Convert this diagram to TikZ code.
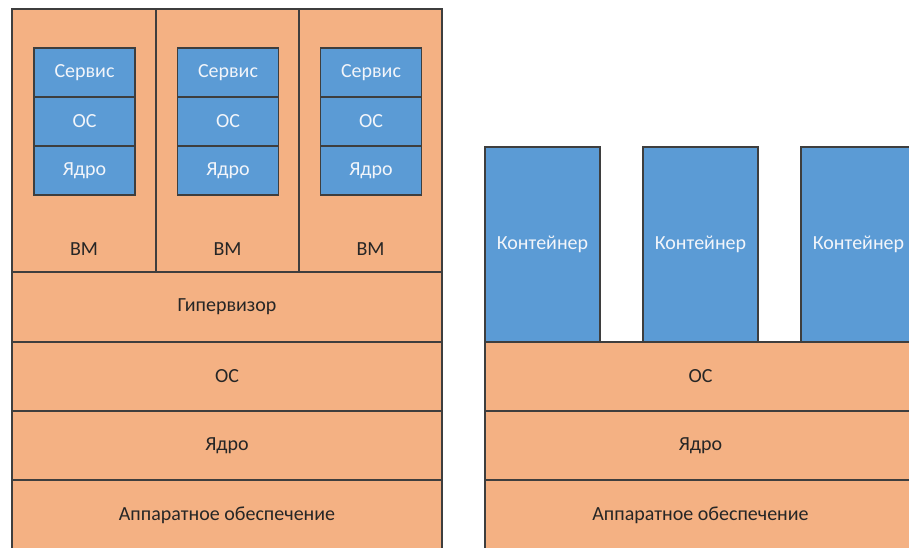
\documentclass[tikz,border=0pt]{standalone}
\usepackage{fontspec}
\setmainfont{Carlito}
\definecolor{layerorange}{HTML}{F4B183}
\definecolor{boxblue}{HTML}{5B9BD5}
\definecolor{edgegray}{HTML}{3E3E3E}
\definecolor{darktext}{HTML}{262626}
\definecolor{lighttext}{HTML}{F2F5FA}
\tikzset{
  layer/.style={draw=edgegray, line width=1.3pt, fill=layerorange, inner sep=0pt,
    text=darktext, font=\fontsize{20}{23}\selectfont},
  bluebox/.style={draw=edgegray, line width=1.3pt, fill=boxblue, inner sep=0pt,
    text=lighttext, font=\fontsize{20}{23}\selectfont},
  plaintext/.style={inner sep=0pt, text=darktext, font=\fontsize{20}{23}\selectfont}
}
\begin{document}
\begin{tikzpicture}[x=1pt,y=-1pt]
\useasboundingbox (0,0) rectangle (909,547);
\clip (0,0) rectangle (909,547);
% ---- left stack: virtual machines ----
\node[layer, minimum width=144pt, minimum height=263pt] (vm1) at (84,140.5) {};
\node[layer, minimum width=143pt, minimum height=263pt] (vm2) at (227.5,140.5) {};
\node[layer, minimum width=143pt, minimum height=263pt] (vm3) at (370.5,140.5) {};
\node[plaintext] (vm1t) at (84,249) {ВМ};
\node[plaintext] (vm2t) at (227.5,249) {ВМ};
\node[plaintext] (vm3t) at (370.5,249) {ВМ};
\foreach \i/\cx in {1/84.5,2/228,3/371}{
  \node[bluebox, minimum width=101pt, minimum height=49pt] (srv\i) at (\cx,72.5) {Сервис};
  \node[bluebox, minimum width=101pt, minimum height=49pt] (os\i) at (\cx,121.5) {ОС};
  \node[bluebox, minimum width=101pt, minimum height=49pt] (krn\i) at (\cx,170.5) {Ядро};
}
\node[layer, minimum width=430pt, minimum height=70pt] (hyp) at (227,307) {Гипервизор};
\node[layer, minimum width=430pt, minimum height=69pt] (losl) at (227,376.5) {ОС};
\node[layer, minimum width=430pt, minimum height=69pt] (lkern) at (227,445.5) {Ядро};
\node[layer, minimum width=430pt, minimum height=70pt] (lhw) at (227,515) {Аппаратное обеспечение};
% ---- right stack: containers ----
\node[layer, minimum width=431pt, minimum height=69pt] (ros) at (700.5,376.5) {ОС};
\node[layer, minimum width=431pt, minimum height=69pt] (rkern) at (700.5,445.5) {Ядро};
\node[layer, minimum width=431pt, minimum height=70pt] (rhw) at (700.5,515) {Аппаратное обеспечение};
\node[bluebox, minimum width=115pt, minimum height=195pt] (c1) at (542.5,244.5) {Контейнер};
\node[bluebox, minimum width=115pt, minimum height=195pt] (c2) at (700.5,244.5) {Контейнер};
\node[bluebox, minimum width=115pt, minimum height=195pt] (c3) at (858.5,244.5) {Контейнер};
\end{tikzpicture}
\end{document}
